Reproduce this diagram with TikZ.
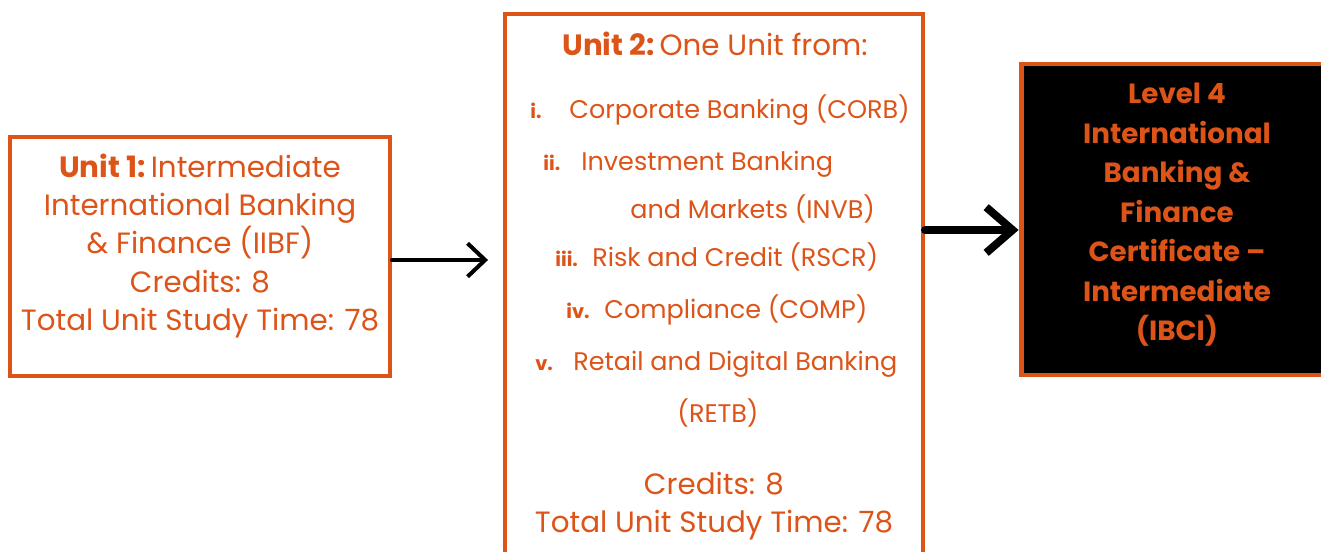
\documentclass[tikz,border=0pt]{standalone}
\usepackage{fontspec}
\setmainfont{Poppins}
\usetikzlibrary{arrows.meta}
\definecolor{unitorange}{HTML}{DD5419}
\tikzset{
  unitbox/.style={draw=unitorange, line width=2.3pt, fill=white, inner sep=0pt},
  unittext/.style={text=unitorange, inner sep=0pt, font=\fontsize{16.7}{21.9}\selectfont},
  itemnum/.style={text=unitorange, inner sep=0pt, font=\fontsize{11}{13}\selectfont\bfseries, anchor=base west},
  itemtext/.style={text=unitorange, inner sep=0pt, font=\fontsize{14.5}{17}\selectfont, anchor=base west},
  flow/.style={draw=black, line cap=round, line join=round},
}
\begin{document}
\begin{tikzpicture}[x=0.02cm,y=-0.02cm]
        \useasboundingbox (0,0) rectangle (1321,551);
        \node[unitbox, minimum width=7.6cm, minimum height=4.78cm] (unitone) at (200,256.5) {};
        \node[unitbox, minimum width=8.36cm, minimum height=11.0cm] (unittwo) at (714,289) {};
        \node[unitbox, fill=black, line width=2.8pt, minimum width=6.2cm, minimum height=6.22cm] (level) at (1176,219.5) {};
        \node[unittext, align=center] (unitonetext) at (200,246) {\textbf{Unit 1:}\,Intermediate\\International Banking\\\& Finance (IIBF)\\Credits: 8\\Total Unit Study Time: 78};
        \node[unittext, anchor=base] (unittwohead) at (715,55) {\textbf{Unit 2:}\,One Unit from:};
        \node[itemnum] (numi) at (530,118) {i.};
        \node[itemtext] (corb) at (569,118) {Corporate Banking (CORB)};
        \node[itemnum] (numii) at (543,170) {ii.};
        \node[itemtext] (invb) at (581,170) {Investment Banking};
        \node[itemtext] (invbb) at (630,218) {and Markets (INVB)};
        \node[itemnum] (numiii) at (555,266) {iii.};
        \node[itemtext] (rscr) at (592,266) {Risk and Credit (RSCR)};
        \node[itemnum] (numiv) at (566,318) {iv.};
        \node[itemtext] (comp) at (604,318) {Compliance (COMP)};
        \node[itemnum] (numv) at (535,370) {v.};
        \node[itemtext] (retb) at (573,370) {Retail and Digital Banking};
        \node[itemtext, anchor=base] (retbb) at (718,422) {(RETB)};
        \node[unittext, align=center] (unittwofoot) at (714,506) {Credits: 8\\Total Unit Study Time: 78};
        \node[unittext, align=center, font=\fontsize{15.8}{22.5}\selectfont\bfseries] (leveltext) at (1177,215) {Level 4\\International\\Banking \&\\Finance\\Certificate --\\Intermediate\\(IBCI)};
        \draw[flow, line width=2.3pt, -{Straight Barb[length=10pt, width=19pt]}] (unitone.east |- 0,260) -- ([xshift=-0.3cm]unittwo.west |- 0,260);
        \draw[flow, line width=4.5pt, -{Straight Barb[length=15pt, width=26pt]}] (unittwo.east |- 0,230) -- (level.west |- 0,230);
\end{tikzpicture}
\end{document}
